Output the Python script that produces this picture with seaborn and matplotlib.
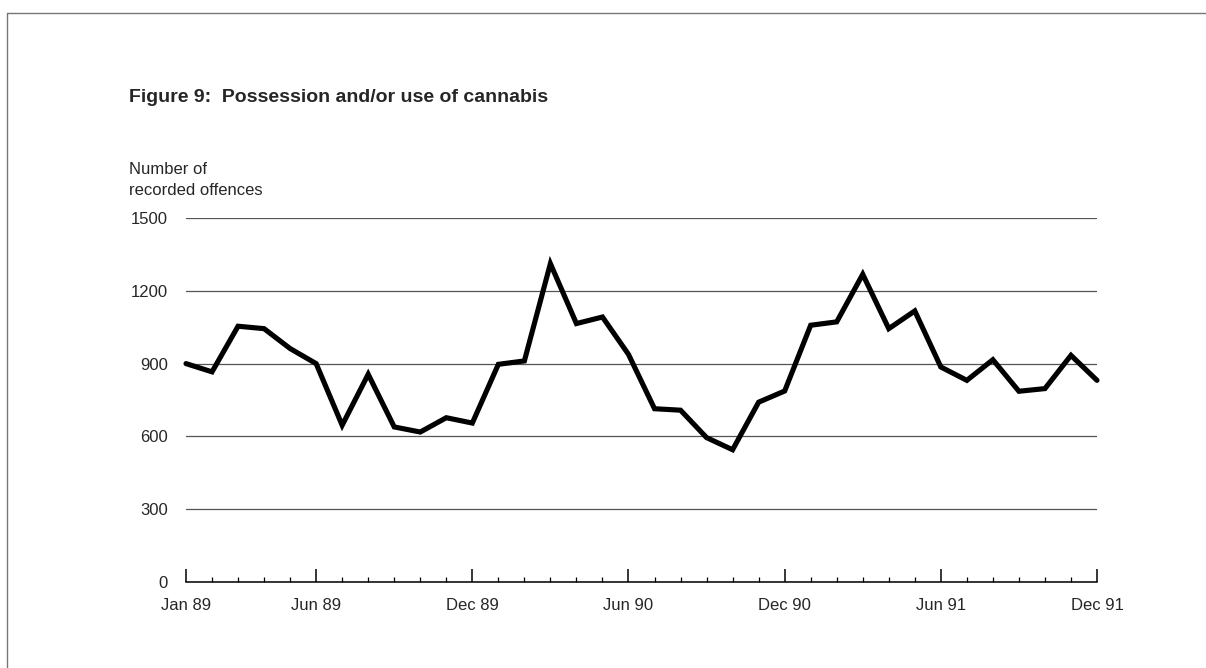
import matplotlib
matplotlib.use('Agg')
import matplotlib.pyplot as plt
from matplotlib.lines import Line2D
from matplotlib.ticker import FixedLocator
import seaborn as sns
import numpy as np
import pandas as pd

# monthly recorded offences, Jan 1989 - Dec 1991
years = ['89', '90', '91']
month_names = ['Jan', 'Feb', 'Mar', 'Apr', 'May', 'Jun',
               'Jul', 'Aug', 'Sep', 'Oct', 'Nov', 'Dec']
offences = [900, 866, 1054, 1044, 962, 900, 646, 856, 639, 618, 677, 655,
            897, 911, 1312, 1065, 1092, 938, 714, 708, 595, 545, 741, 787,
            1058, 1072, 1268, 1044, 1117, 886, 831, 916, 786, 797, 934, 831]
labelled_months = ['Jan 89', 'Jun 89', 'Dec 89', 'Jun 90', 'Dec 90', 'Jun 91', 'Dec 91']
y_ticks = [0, 300, 600, 900, 1200, 1500]

months = [m + ' ' + y for y in years for m in month_names]
df = pd.DataFrame({'month': months, 'idx': np.arange(len(months)), 'offences': offences})

sns.set_style('white')
plt.rcParams['font.family'] = ['Liberation Sans', 'DejaVu Sans']

fig = plt.figure(figsize=(12.06, 6.68), dpi=100)
W, H = 1206, 668
ax = fig.add_axes([186 / W, 1 - 582 / H, (1097 - 186) / W, (582 - 218) / H])

sns.lineplot(data=df, x='idx', y='offences', ax=ax, color='black', linewidth=3.7)
for l in ax.get_lines():
    l.set_solid_joinstyle('miter')
    l.set_clip_on(False)

ax.set_xlim(0, len(months) - 1)
ax.set_ylim(0, 1500)

# grid
ax.set_yticks(y_ticks)
ax.set_yticklabels([str(v) for v in y_ticks], fontsize=12)
ax.yaxis.grid(True, color='#555555', linewidth=0.9)
ax.tick_params(axis='y', left=False, length=0, pad=13)

major_idx = [months.index(m) for m in labelled_months]
ax.set_xticks(major_idx)
ax.set_xticklabels(labelled_months, fontsize=12)
ax.xaxis.set_minor_locator(FixedLocator([i for i in range(len(months)) if i not in major_idx]))
ax.tick_params(axis='x', which='both', bottom=True)
ax.tick_params(axis='x', which='major', direction='in', length=9.5, width=1.1, color='black', pad=11.5)
ax.tick_params(axis='x', which='minor', direction='in', length=3.5, width=0.9, color='black')
ax.xaxis.grid(False)

for s in ['left', 'right', 'top']:
    ax.spines[s].set_visible(False)
ax.spines['bottom'].set_color('black')
ax.spines['bottom'].set_linewidth(1.1)
ax.set_xlabel('')
ax.set_ylabel('')

fig.text(129 / W, 1 - 102 / H, 'Figure 9:  Possession and/or use of cannabis',
         fontsize=14, fontweight='bold', va='baseline', ha='left')
fig.text(129 / W, 1 - 174 / H, 'Number of', fontsize=12, va='baseline', ha='left')
fig.text(129 / W, 1 - 195 / H, 'recorded offences', fontsize=12, va='baseline', ha='left')

# page frame
fig.add_artist(Line2D([7 / W, 1], [1 - 12.5 / H, 1 - 12.5 / H], color='#777777', linewidth=1))
fig.add_artist(Line2D([7 / W, 7 / W], [0, 1 - 12.5 / H], color='#777777', linewidth=1))

fig.savefig('out.png', dpi=100)
